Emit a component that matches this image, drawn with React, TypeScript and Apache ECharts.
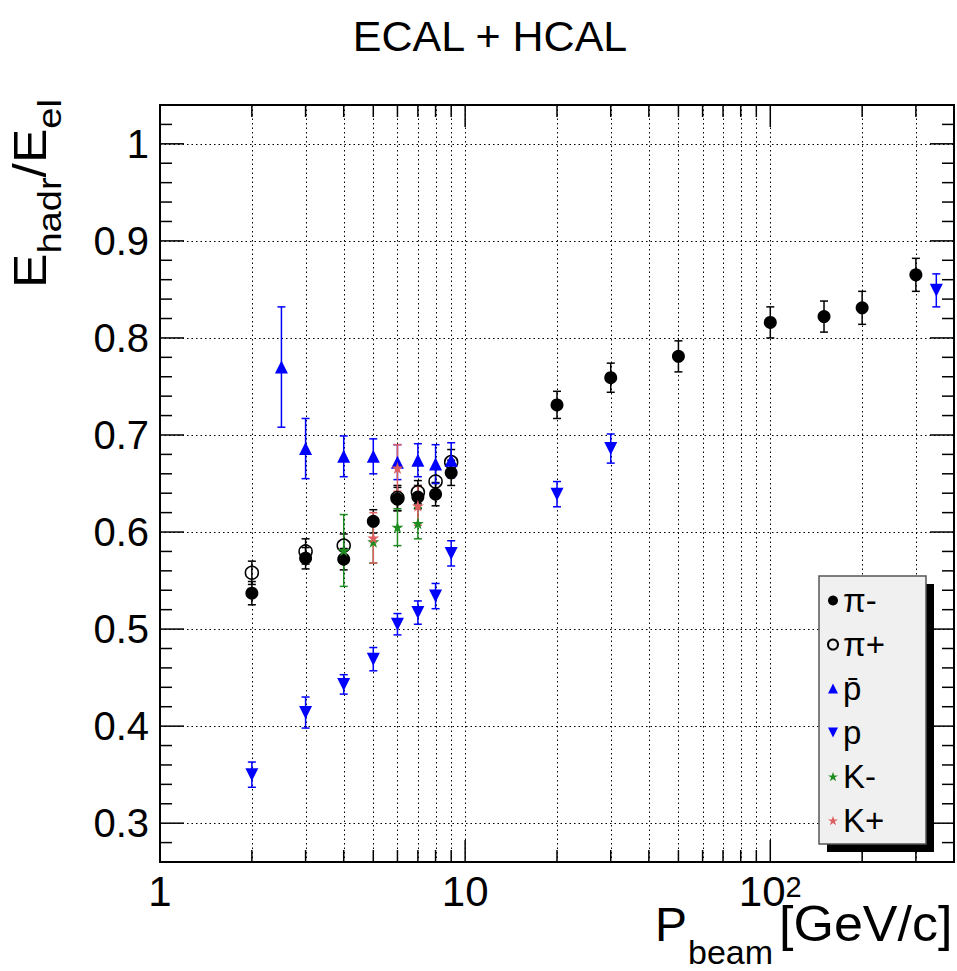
import React, { useEffect, useRef } from 'react';
import * as echarts from 'echarts';

const FONT = '"Liberation Sans", Arial, Helvetica, sans-serif';

// ---- data: beam momentum [GeV/c], response ratio, error ----
const piMinusP = [2, 3, 4, 5, 6, 7, 8, 9, 20, 30, 50, 100, 150, 200, 300];
const piMinusR = [0.537, 0.573, 0.572, 0.611, 0.634, 0.636, 0.639, 0.661, 0.731, 0.759, 0.781, 0.816, 0.822, 0.831, 0.865];
const piMinusE = [0.012, 0.011, 0.011, 0.012, 0.012, 0.012, 0.012, 0.013, 0.014, 0.015, 0.016, 0.016, 0.016, 0.017, 0.017];

const piPlusP = [2, 3, 4, 6, 7, 8, 9];
const piPlusR = [0.558, 0.580, 0.586, 0.635, 0.641, 0.652, 0.672];
const piPlusE = [0.012, 0.013, 0.012, 0.013, 0.012, 0.013, 0.013];

const pbarP = [2.5, 3, 4, 5, 6, 7, 8, 9];
const pbarR = [0.770, 0.686, 0.678, 0.678, 0.672, 0.674, 0.670, 0.674];
const pbarE = [0.062, 0.031, 0.021, 0.018, 0.018, 0.017, 0.020, 0.018];

const protonP = [2, 3, 4, 5, 6, 7, 8, 9, 20, 30, 350];
const protonR = [0.350, 0.414, 0.443, 0.469, 0.505, 0.517, 0.534, 0.578, 0.639, 0.686, 0.849];
const protonE = [0.013, 0.016, 0.010, 0.012, 0.011, 0.012, 0.013, 0.013, 0.013, 0.015, 0.017];

const kMinusP = [4, 5, 6, 7];
const kMinusR = [0.581, 0.590, 0.605, 0.609];
const kMinusE = [0.037, 0.022, 0.019, 0.016];

const kPlusP = [5, 6, 7];
const kPlusR = [0.594, 0.666, 0.627];
const kPlusE = [0.026, 0.024, 0.020];

// ---- axes ----
const X_MIN = 1;
const X_MAX = 400;
const Y_MIN = 0.26;
const Y_MAX = 1.04;
const xGridValues = [2, 3, 4, 5, 6, 7, 8, 9, 10, 20, 30, 40, 50, 60, 70, 80, 90, 100, 200, 300];
const xMajorValues = [10, 100];
const yGridValues = [0.3, 0.4, 0.5, 0.6, 0.7, 0.8, 0.9, 1.0];
const yTickValues: number[] = [];
for (let i = 13; i <= 52; i++) yTickValues.push(Math.round(i * 2) / 100);

const STAR = 'path://M50,0L61.17,34.63L97.55,34.55L68.07,55.87L79.39,90.45L50,69L20.61,90.45L31.93,55.87L2.45,34.55L38.83,34.63Z';
const TRI_DOWN = 'path://M0,0L100,0L50,100Z';

const BLUE = '#0000ff';
const GREEN = '#1e8c1e';
const RED = '#dd5f5f';

function toPts(xs: number[], ys: number[], es?: number[]) {
  return xs.map((x, i) => (es ? [x, ys[i], es[i]] : [x, ys[i]]));
}

const px = (v: number) => Math.round(v) + 0.5;

function errRender(color: string) {
  return (params: any, api: any) => {
    const x = api.value(0);
    const y = api.value(1);
    const e = api.value(2);
    const t = api.coord([x, y + e]);
    const b = api.coord([x, y - e]);
    const h = 4;
    const st = { stroke: color, lineWidth: 1.5 };
    return {
      type: 'group',
      children: [
        { type: 'line', shape: { x1: t[0], y1: t[1], x2: b[0], y2: b[1] }, style: st },
        { type: 'line', shape: { x1: t[0] - h, y1: t[1], x2: t[0] + h, y2: t[1] }, style: st },
        { type: 'line', shape: { x1: b[0] - h, y1: b[1], x2: b[0] + h, y2: b[1] }, style: st },
      ],
    };
  };
}

export default function App() {
  const ref = useRef<HTMLDivElement>(null);
  useEffect(() => {
    if (!ref.current) return;
    const chart = echarts.init(ref.current, undefined, { renderer: 'svg' });

    const errSeries = (name: string, xs: number[], ys: number[], es: number[], color: string) => ({
      type: 'custom',
      name,
      silent: true,
      z: 2,
      encode: { x: 0, y: 1 },
      data: toPts(xs, ys, es),
      renderItem: errRender(color),
    });

    const option: any = {
      animation: false,
      backgroundColor: '#ffffff',
      grid: {
        left: 160,
        top: 105,
        right: 3,
        bottom: 109,
        show: true,
        borderColor: '#000',
        borderWidth: 2,
        backgroundColor: 'transparent',
      },
      xAxis: {
        type: 'log',
        logBase: 10,
        min: X_MIN,
        max: X_MAX,
        axisLine: { show: false },
        axisTick: { show: false },
        splitLine: { show: false },
        minorTick: { show: false },
        axisLabel: {
          margin: 10,
          showMaxLabel: false,
          color: '#000',
          formatter: (v: number) => {
            const e = Math.round(Math.log10(v));
            if (Math.abs(Math.log10(v) - e) > 1e-6) return '';
            if (e === 0) return '{b|1}';
            if (e === 1) return '{b|10}';
            if (e === 2) return '{b|10}{s|2}';
            return '';
          },
          rich: {
            b: { fontSize: 42, fontFamily: FONT, color: '#000', lineHeight: 40, verticalAlign: 'bottom' },
            s: { fontSize: 29, fontFamily: FONT, color: '#000', lineHeight: 6, verticalAlign: 'top' },
          },
        },
      },
      yAxis: {
        type: 'value',
        min: Y_MIN,
        max: Y_MAX,
        interval: 0.02,
        axisLine: { show: false },
        axisTick: { show: false },
        splitLine: { show: false },
        axisLabel: {
          interval: 0,
          margin: 11,
          fontSize: 40,
          fontFamily: FONT,
          color: '#000',
          formatter: (v: number) => {
            const r = Math.round(v * 10) / 10;
            if (Math.abs(v - r) > 1e-6) return '';
            if (r < 0.29 || r > 1.01) return '';
            return r === 1 ? '1' : r.toFixed(1);
          },
        },
      },
      legend: {
        show: true,
        orient: 'vertical',
        left: 820,
        top: 576,
        padding: [8, 10, 8, 7],
        itemWidth: 10,
        itemHeight: 10,
        itemGap: 11,
        selectedMode: false,
        z: 10,
        textStyle: { fontSize: 33, fontFamily: FONT, color: '#000', lineHeight: 33 },
        data: ['π-', 'π+', 'p\u0304', 'p', 'K-', 'K+'],
      },
      graphic: [
        {
          type: 'text',
          x: 490,
          y: 36,
          style: { text: 'ECAL + HCAL', fontSize: 43, fontFamily: FONT, fill: '#000', align: 'center', verticalAlign: 'middle' },
        },
        { type: 'rect', z: 7, shape: { x: 827, y: 584, width: 107, height: 268 }, style: { fill: '#000' } },
        { type: 'rect', z: 8, shape: { x: 819, y: 576, width: 107, height: 268 }, style: { fill: '#f0f0f0', stroke: '#555', lineWidth: 1.5 } },
        {
          type: 'text', x: 655, y: 924,
          style: { text: 'P', fontSize: 48, fontFamily: FONT, fill: '#000', align: 'left', verticalAlign: 'middle' },
        },
        {
          type: 'text', x: 688, y: 952,
          style: { text: 'beam', fontSize: 34, fontFamily: FONT, fill: '#000', align: 'left', verticalAlign: 'middle' },
        },
        {
          type: 'text', x: 779, y: 924, scaleX: 1.04,
          style: { text: '[GeV/c]', fontSize: 50, fontFamily: FONT, fill: '#000', align: 'left', verticalAlign: 'middle' },
        },
        {
          type: 'group',
          x: 30,
          y: 288,
          rotation: Math.PI / 2,
          scaleX: 1.12,
          children: [
            { type: 'text', x: 0, y: 0, style: { text: 'E', fontSize: 46, fontFamily: FONT, fill: '#000', align: 'left', verticalAlign: 'middle' } },
            { type: 'text', x: 30.7, y: 19, style: { text: 'hadr', fontSize: 34, fontFamily: FONT, fill: '#000', align: 'left', verticalAlign: 'middle' } },
            { type: 'text', x: 98.7, y: 0, style: { text: '/', fontSize: 46, fontFamily: FONT, fill: '#000', align: 'left', verticalAlign: 'middle' } },
            { type: 'text', x: 111.5, y: 0, style: { text: 'E', fontSize: 46, fontFamily: FONT, fill: '#000', align: 'left', verticalAlign: 'middle' } },
            { type: 'text', x: 142.2, y: 19, style: { text: 'el', fontSize: 34, fontFamily: FONT, fill: '#000', align: 'left', verticalAlign: 'middle' } },
          ],
        },
      ],
      series: [
        {
          type: 'custom',
          name: 'xgrid',
          silent: true,
          z: 1,
          encode: { x: 0, y: 1 },
          data: xGridValues.map((v) => [v, Y_MIN]),
          renderItem: (params: any, api: any) => {
            const cs = params.coordSys;
            const x = px(api.coord([api.value(0), Y_MIN])[0]);
            return {
              type: 'line',
              shape: { x1: x, y1: cs.y, x2: x, y2: cs.y + cs.height },
              style: { stroke: '#000', lineWidth: 1, lineDash: [1.5, 3] },
            };
          },
        },
        {
          type: 'custom',
          name: 'ygrid',
          silent: true,
          z: 1,
          encode: { x: 0, y: 1 },
          data: yGridValues.map((v) => [X_MIN, v]),
          renderItem: (params: any, api: any) => {
            const cs = params.coordSys;
            const y = px(api.coord([X_MIN, api.value(1)])[1]);
            return {
              type: 'line',
              shape: { x1: cs.x, y1: y, x2: cs.x + cs.width, y2: y },
              style: { stroke: '#000', lineWidth: 1, lineDash: [1.5, 3] },
            };
          },
        },
        {
          type: 'custom',
          name: 'xticks',
          silent: true,
          z: 3,
          encode: { x: 0, y: 1 },
          data: xGridValues.map((v) => [v, Y_MIN, xMajorValues.indexOf(v) >= 0 ? 1 : 0]),
          renderItem: (params: any, api: any) => {
            const cs = params.coordSys;
            const x = api.coord([api.value(0), Y_MIN])[0];
            const len = api.value(2) ? 22 : 12;
            const st = { stroke: '#000', lineWidth: 1.5 };
            return {
              type: 'group',
              children: [
                { type: 'line', shape: { x1: x, y1: cs.y + cs.height, x2: x, y2: cs.y + cs.height - len }, style: st },
                { type: 'line', shape: { x1: x, y1: cs.y, x2: x, y2: cs.y + len }, style: st },
              ],
            };
          },
        },
        {
          type: 'custom',
          name: 'yticks',
          silent: true,
          z: 3,
          encode: { x: 0, y: 1 },
          data: yTickValues.map((v, i) => [X_MIN, v, (i + 13) % 5 === 0 ? 1 : 0]),
          renderItem: (params: any, api: any) => {
            const cs = params.coordSys;
            const y = api.coord([X_MIN, api.value(1)])[1];
            const len = api.value(2) ? 24 : 12;
            const st = { stroke: '#000', lineWidth: 1.5 };
            return {
              type: 'group',
              children: [
                { type: 'line', shape: { x1: cs.x, y1: y, x2: cs.x + len, y2: y }, style: st },
                { type: 'line', shape: { x1: cs.x + cs.width, y1: y, x2: cs.x + cs.width - len, y2: y }, style: st },
              ],
            };
          },
        },
        errSeries('π- err', piMinusP, piMinusR, piMinusE, '#000'),
        errSeries('π+ err', piPlusP, piPlusR, piPlusE, '#000'),
        errSeries('p̄ err', pbarP, pbarR, pbarE, BLUE),
        errSeries('p err', protonP, protonR, protonE, BLUE),
        errSeries('K- err', kMinusP, kMinusR, kMinusE, GREEN),
        errSeries('K+ err', kPlusP, kPlusR, kPlusE, RED),
        {
          type: 'scatter', name: 'π-', z: 4, symbol: 'circle', symbolSize: 13,
          itemStyle: { color: '#000', opacity: 1 },
          data: toPts(piMinusP, piMinusR),
        },
        {
          type: 'scatter', name: 'π+', z: 4, symbol: 'circle', symbolSize: 13,
          itemStyle: { color: 'rgba(0,0,0,0)', borderColor: '#000', borderWidth: 1.5, opacity: 1 },
          data: toPts(piPlusP, piPlusR),
        },
        {
          type: 'scatter', name: 'p\u0304', z: 4, symbol: 'triangle', symbolSize: 13,
          itemStyle: { color: BLUE, opacity: 1 },
          data: toPts(pbarP, pbarR),
        },
        {
          type: 'scatter', name: 'p', z: 4, symbol: TRI_DOWN, symbolSize: 13,
          itemStyle: { color: BLUE, opacity: 1 },
          data: toPts(protonP, protonR),
        },
        {
          type: 'scatter', name: 'K-', z: 4, symbol: STAR, symbolSize: 12,
          itemStyle: { color: GREEN, opacity: 1 },
          data: toPts(kMinusP, kMinusR),
        },
        {
          type: 'scatter', name: 'K+', z: 4, symbol: STAR, symbolSize: 12,
          itemStyle: { color: RED, opacity: 1 },
          data: toPts(kPlusP, kPlusR),
        },
      ],
    };
    chart.setOption(option);
    return () => chart.dispose();
  }, []);

  return (
    <div
      ref={ref}
      style={{ position: 'absolute', left: 0, top: 0, width: 957, height: 971, background: '#fff' }}
    />
  );
}
